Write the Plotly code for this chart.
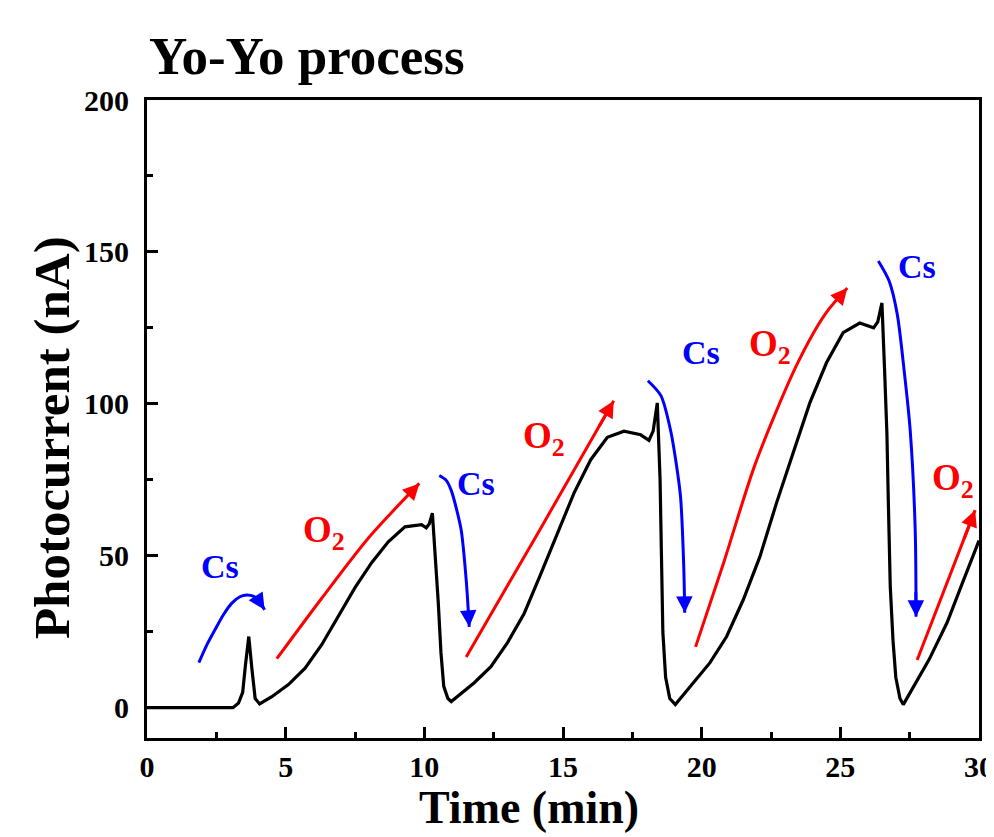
import plotly.graph_objects as go

# ---- data ----
time_min = [0, 3.1, 3.3, 3.45, 3.55, 3.67, 3.78, 3.9, 4.06, 4.5, 5.1, 5.7, 6.3, 6.9, 7.5, 8.1, 8.7,
            9.3, 9.9, 10.07, 10.18, 10.29, 10.4, 10.5, 10.6, 10.7, 10.85, 10.97, 11.8, 12.4, 13.0,
            13.6, 14.2, 14.8, 15.4, 16.0, 16.6, 17.2, 17.8, 18.1, 18.25, 18.4, 18.5, 18.55, 18.6,
            18.7, 18.85, 19.05, 19.7, 20.3, 20.9, 21.5, 22.1, 22.7, 23.3, 23.9, 24.5, 25.1, 25.7,
            26.2, 26.35, 26.5, 26.6, 26.68, 26.73, 26.8, 26.9, 27.0, 27.15, 27.27, 28.2, 28.85,
            29.4, 30.0]
photocurrent = [0, 0, 1.5, 5, 14, 23.4, 13, 3, 1.2, 3.6, 7.6, 13, 20.7, 30, 39.5, 47.7, 54.6,
                59.5, 60.2, 59.2, 60.5, 64, 50, 35, 18, 7, 3, 2, 8.2, 13.5, 21.4,
                31, 44, 57.5, 70.7, 81.6, 89, 91, 89.8, 88, 91, 100.3, 75, 50, 25,
                10, 3, 1, 8.2, 14.8, 23.4, 35.5, 49.7, 67.4, 83.9, 100.3, 113.5, 123.4, 126.6,
                125, 127, 133.2, 110, 90, 68, 40, 22, 10, 3, 1, 15.8, 28,
                41, 55]

# guide arrows (paths) : Cs (blue) and O2 (red)
cs_arrow_x = [[1.87, 2.15, 2.45, 2.75, 3.06, 3.35, 3.6, 3.85, 4.03, 4.24],
              [10.54, 10.79, 10.97, 11.17, 11.33, 11.51, 11.62],
              [18.06, 18.53, 18.88, 19.08, 19.24, 19.35, 19.39],
              [26.37, 26.76, 27.05, 27.3, 27.52, 27.7, 27.73]]
cs_arrow_y = [[14.8, 20.5, 25.6, 30.5, 34.4, 36.5, 37.1, 36.6, 35.2, 32.2],
              [76.4, 74.8, 71.5, 65.0, 58.4, 42.0, 26.6],
              [107.6, 102.7, 91.2, 80.5, 69.2, 47.6, 31.2],
              [147.0, 140.4, 129.6, 111.0, 91.2, 58.4, 29.9]]
o2_arrow_x = [[4.68, 6.3, 8.0, 9.82],
              [11.51, 14.1, 16.83],
              [19.78, 20.79, 21.94, 23.45, 24.46, 25.25],
              [27.77, 29.86]]
o2_arrow_y = [[16.1, 36.0, 56.0, 73.8],
              [16.7, 57.5, 101.0],
              [20.0, 47.6, 80.4, 113.2, 129.6, 138.1],
              [15.7, 65.0]]

cs_label_x = [2.63, 11.87, 19.96, 27.77]
cs_label_y = [46.4, 73.8, 116.8, 145.3]
o2_label_x = [6.37, 14.32, 22.48, 29.07]
o2_label_y = [57.7, 88.6, 119.0, 74.8]

x_ticks = [0, 5, 10, 15, 20, 25, 30]
y_ticks = [0, 50, 100, 150, 200]

FONT = "Liberation Serif, Times New Roman, serif"
BLUE = "#0000ff"
RED = "#ff0000"

fig = go.Figure()
annotations = []


def head(xs, ys, color, frac):
    return dict(x=xs[-1], y=ys[-1],
                ax=xs[-1] - (xs[-1] - xs[-2]) * frac, ay=ys[-1] - (ys[-1] - ys[-2]) * frac,
                xref="x", yref="y", axref="x", ayref="y", text="", showarrow=True,
                arrowhead=2, arrowsize=1.1, arrowwidth=3, arrowcolor=color, standoff=0)


for i, (xs, ys) in enumerate(zip(cs_arrow_x, cs_arrow_y)):
    fig.add_trace(go.Scatter(x=xs, y=ys, mode="lines",
                             line=dict(color=BLUE, width=3, shape="spline", smoothing=0.8),
                             hoverinfo="skip", showlegend=False))
    annotations.append(head(xs, ys, BLUE, 1.0 if i == 0 else 0.3))
for xs, ys in zip(o2_arrow_x, o2_arrow_y):
    fig.add_trace(go.Scatter(x=xs, y=ys, mode="lines",
                             line=dict(color=RED, width=3, shape="spline", smoothing=0.8),
                             hoverinfo="skip", showlegend=False))
    annotations.append(head(xs, ys, RED, 0.2))

fig.add_trace(go.Scatter(x=time_min, y=photocurrent, mode="lines",
                         line=dict(color="black", width=3.2), showlegend=False))

for x, y in zip(cs_label_x, cs_label_y):
    annotations.append(dict(x=x, y=y, xref="x", yref="y", text="Cs", showarrow=False,
                            font=dict(family=FONT, size=34, color=BLUE, weight="bold")))
for x, y in zip(o2_label_x, o2_label_y):
    annotations.append(dict(x=x, y=y, xref="x", yref="y", text="O<sub>2</sub>", showarrow=False,
                            font=dict(family=FONT, size=37, color=RED, weight="bold")))

# titles
annotations.append(dict(x=0.0, y=1.02, xref="paper", yref="paper", xanchor="left",
                        yanchor="bottom", text="Yo-Yo process", showarrow=False,
                        font=dict(family=FONT, size=53, color="black", weight="bold")))
annotations.append(dict(x=(527 - 145) / 833, y=-0.066, xref="paper", yref="paper",
                        xanchor="center", yanchor="top", text="Time (min)", showarrow=False,
                        font=dict(family=FONT, size=46, color="black", weight="bold")))
annotations.append(dict(x=-0.114, y=(738 - 437) / 640, xref="paper", yref="paper",
                        xanchor="center", yanchor="middle", text="Photocurrent (nA)",
                        textangle=-90, showarrow=False,
                        font=dict(family=FONT, size=51, color="black", weight="bold")))

axis_common = dict(showline=True, linecolor="black", linewidth=3, mirror=True,
                   ticks="inside", ticklen=11, tickwidth=2.5, tickcolor="black",
                   showgrid=False, zeroline=False, automargin=False,
                   tickfont=dict(family=FONT, size=30, color="black", weight="bold"))

fig.update_layout(
    width=994, height=837,
    margin=dict(l=139, r=23, t=92, b=107),
    paper_bgcolor="white", plot_bgcolor="white",
    xaxis=dict(range=[0, 30], tickvals=x_ticks, ticktext=[str(v) for v in x_ticks],
               minor=dict(ticks="inside", dtick=2.5, tick0=0, ticklen=6, tickwidth=2.5,
                          tickcolor="black"),
               **axis_common),
    yaxis=dict(range=[-10, 200], tickvals=y_ticks, ticktext=[str(v) for v in y_ticks],
               ticklabelstandoff=9,
               minor=dict(ticks="inside", dtick=25, tick0=0, ticklen=6, tickwidth=2.5,
                          tickcolor="black"),
               **axis_common),
    annotations=annotations,
)

fig.write_html("out.html")
